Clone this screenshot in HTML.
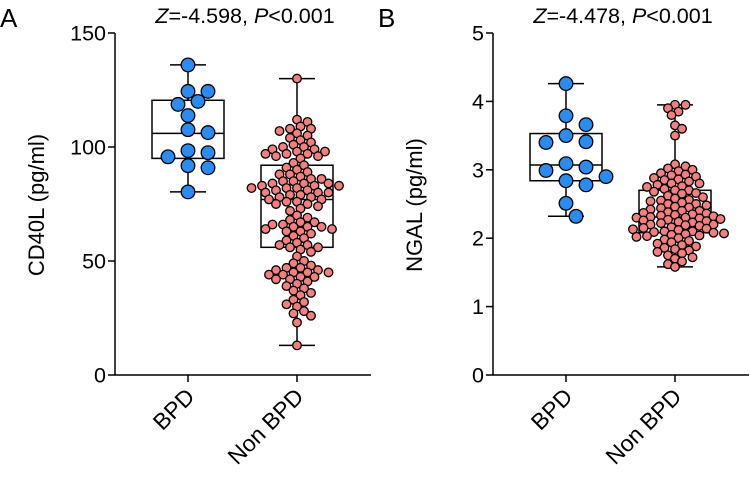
<!DOCTYPE html>
<html><head><meta charset="utf-8"><style>
body{margin:0;background:#fff}
svg{font-family:"Liberation Sans",Arial,sans-serif}
text{font-family:"Liberation Sans",Arial,sans-serif}
</style></head><body>
<svg id="c" width="750" height="475"></svg>
<script>
const categories=["BPD","Non BPD"];
const aBPD=[136,124.4,124.4,118.7,120,113.8,107.6,106.3,98.4,97.5,95.7,91.8,90.9,80.3];
const aNon=[130,112,111,109,108,108,107,106,105,104,103,102,101,100,100,99,99,98,98,97,97,97,96,96,95,93,92,91,90,89,88,88,87,86,86,85,85,84,84,84,83,83,83,82,82,82,81,81,80,80,80,79,79,78,78,77,77,76,76,75,75,74,73,72,70,69,68,67,67,66,66,65,65,65,64,64,63,63,62,61,60,59,58,57,57,56,56,55,54,52,50,49,48,47,47,46,46,45,45,45,44,44,43,43,42,42,41,40,39,38,37,36,35,33,32,31,30,28,27,26,23,13];
const aBox=[{min:80.3,q1:95,med:106,q3:120.5,max:136},{min:13,q1:56,med:77,q3:92,max:130}];
const bBPD=[4.26,3.79,3.66,3.5,3.4,3.41,3.04,3.09,2.99,2.9,2.84,2.78,2.51,2.32];
const bNon=[3.95,3.95,3.9,3.85,3.8,3.65,3.6,3.5,3.08,3.05,3.02,3.0,2.98,2.95,2.93,2.92,2.9,2.88,2.86,2.85,2.83,2.8,2.8,2.78,2.76,2.75,2.72,2.7,2.7,2.68,2.66,2.65,2.62,2.6,2.58,2.56,2.55,2.54,2.52,2.5,2.5,2.48,2.46,2.45,2.44,2.42,2.4,2.4,2.38,2.37,2.36,2.35,2.34,2.33,2.32,2.31,2.3,2.3,2.29,2.28,2.27,2.26,2.25,2.24,2.23,2.22,2.2,2.2,2.19,2.18,2.16,2.15,2.14,2.13,2.12,2.1,2.1,2.09,2.08,2.07,2.06,2.05,2.04,2.03,2.02,2.0,1.98,1.96,1.94,1.92,1.9,1.88,1.86,1.84,1.82,1.8,1.78,1.75,1.72,1.7,1.66,1.62,1.58];
const bBox=[{min:2.32,q1:2.84,med:3.07,q3:3.53,max:4.26},{min:1.58,q1:2.08,med:2.31,q3:2.7,max:3.95}];
const aTicks=[0,50,100,150];
const bTicks=[0,1,2,3,4,5];
const NS="http://www.w3.org/2000/svg";
const svg=document.getElementById('c');
function mk(t,a,p){const e=document.createElementNS(NS,t);for(const k in a)e.setAttribute(k,a[k]);(p||svg).appendChild(e);return e;}
function swarm(vals,cx,y,r,step,tol){const placed=[];const out=[];
 const cands=[0];for(let k=1;k<60;k++){cands.push(k*step/2,-k*step/2);}
 const sorted=vals.map(v=>v).sort((a,b)=>b-a);
 sorted.forEach(v=>{const py=y(v);let px=cx;
  for(const off of cands){px=cx+off;
   if(!placed.some(p=>Math.hypot(p[0]-px,p[1]-py)<2*r-tol))break;}
  placed.push([px,py]);out.push([px,py]);});return out;}
function txt(a,p,s,name){const t=mk('text',a,p);t.style.fontSize=s+'px';return t;}
function panel(opt){
 const g=mk('g',{});
 const y=v=>375-v/opt.max*342;
 const X=[opt.x0+73,opt.x0+182];
 mk('line',{x1:opt.x0,y1:33,x2:opt.x0,y2:375,stroke:'#000','stroke-width':1.5},g);
 mk('line',{x1:opt.x0,y1:375,x2:opt.x0+256,y2:375,stroke:'#000','stroke-width':1.5},g);
 opt.ticks.forEach(t=>{mk('line',{x1:opt.x0-7,y1:y(t),x2:opt.x0,y2:y(t),stroke:'#000','stroke-width':1.5},g);
  const tx=txt({x:opt.x0-9,y:y(t)+7.5,'text-anchor':'end'},g,21.5,'y-tick-label');tx.textContent=t;});
 categories.forEach((c,i)=>{mk('line',{x1:X[i],y1:375,x2:X[i],y2:382,stroke:'#000','stroke-width':1.5},g);
  const tx=txt({x:X[i]+8,y:398,'text-anchor':'end',transform:`rotate(-45 ${X[i]+8} 398)`},g,23,'x-tick-label');tx.textContent=c;});
 const yl=txt({x:0,y:0,'text-anchor':'middle',transform:`translate(${opt.x0-71},${205}) rotate(-90)`},g,22,'y-axis-title');yl.textContent=opt.ylab;
 const L=txt({x:opt.x0-115,y:27},g,26,'panel-letter');L.textContent=opt.letter;
 const T=txt({x:opt.x0+130,y:23,'text-anchor':'middle'},g,21.5,'stat-title');
 T.innerHTML=`<tspan font-style="italic">Z</tspan>=${opt.z}, <tspan font-style="italic">P</tspan>&lt;0.001`;
 opt.box.forEach((b,i)=>{const cx=X[i];
  const bg=mk('g',{fill:'none',stroke:'#000','stroke-width':1.5},g);
  mk('line',{x1:cx,y1:y(b.max),x2:cx,y2:y(b.min)},bg);
  mk('line',{x1:cx-18,y1:y(b.max),x2:cx+18,y2:y(b.max)},bg);
  mk('line',{x1:cx-18,y1:y(b.min),x2:cx+18,y2:y(b.min)},bg);
  mk('rect',{x:cx-36,y:y(b.q3),width:72,height:y(b.q1)-y(b.q3),fill:'#fff'},bg);
  mk('line',{x1:cx-36,y1:y(b.med),x2:cx+36,y2:y(b.med)},bg);});
 [[opt.d1,'#2a8cf0',6.8,20,-0.5],[opt.d2,'#f47f7f',4.3,7,1.2]].forEach((s,i)=>{
  swarm(s[0],X[i],y,s[2],s[3],s[4]).forEach(p=>{const c=mk('circle',{cx:p[0],cy:p[1],r:s[2],fill:s[1],stroke:'#000','stroke-width':1.3},g);
   });});
}
panel({name:'panel-a',x0:115,max:150,ticks:aTicks,box:aBox,d1:aBPD,d2:aNon,ylab:'CD40L (pg/ml)',letter:'A',z:'-4.598'});
panel({name:'panel-b',x0:493,max:5,ticks:bTicks,box:bBox,d1:bBPD,d2:bNon,ylab:'NGAL (pg/ml)',letter:'B',z:'-4.478'});
</script>
</body></html>
